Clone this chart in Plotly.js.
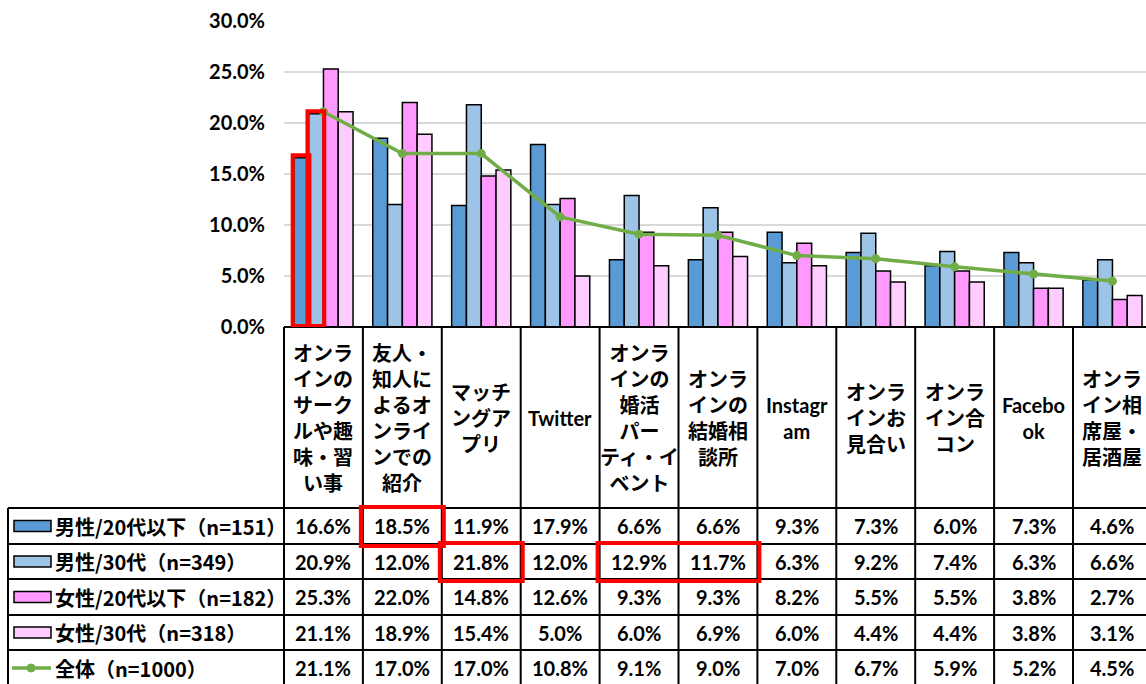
<!DOCTYPE html>
<html><head><meta charset="utf-8">
<script src="https://cdn.plot.ly/plotly-3.0.1.min.js"></script>
<style>html,body{margin:0;padding:0;background:#fff}#chart{width:1146px;height:684px}</style>
</head><body><div id="chart"></div>
<script>
const categories = [
  'オンラインのサークルや趣味・習い事',
  '友人・知人によるオンラインでの紹介',
  'マッチングアプリ',
  'Twitter',
  'オンラインの婚活パーティ・イベント',
  'オンラインの結婚相談所',
  'Instagram',
  'オンラインお見合い',
  'オンライン合コン',
  'Facebook',
  'オンライン相席屋・居酒屋'
];
const categoryLabels = [
  'オンラ<br>インの<br>サーク<br>ルや趣<br>味・習<br>い事',
  '友人・<br>知人に<br>よるオ<br>ンライ<br>ンでの<br>紹介',
  'マッチ<br>ングア<br>プリ',
  'Twitter',
  'オンラ<br>インの<br>婚活<br>パー<br>ティ・イ<br>ベント',
  'オンラ<br>インの<br>結婚相<br>談所',
  'Instagr<br>am',
  'オンラ<br>インお<br>見合い',
  'オンラ<br>イン合<br>コン',
  'Facebo<br>ok',
  'オンラ<br>イン相<br>席屋・<br>居酒屋'
];
const seriesNames = ['男性/20代以下（n=151）','男性/30代（n=349）','女性/20代以下（n=182）','女性/30代（n=318）','全体（n=1000）'];
const male20   = [16.6,18.5,11.9,17.9,6.6,6.6,9.3,7.3,6.0,7.3,4.6];
const male30   = [20.9,12.0,21.8,12.0,12.9,11.7,6.3,9.2,7.4,6.3,6.6];
const female20 = [25.3,22.0,14.8,12.6,9.3,9.3,8.2,5.5,5.5,3.8,2.7];
const female30 = [21.1,18.9,15.4,5.0,6.0,6.9,6.0,4.4,4.4,3.8,3.1];
const total    = [21.1,17.0,17.0,10.8,9.1,9.0,7.0,6.7,5.9,5.2,4.5];
const yTicks = [0,5,10,15,20,25,30];

// highlighted cells: [category index, row index, span]
const highlightCells = [[1,0,1],[2,1,1],[4,1,2]];

const barSeries = [male20, male30, female20, female30];
const barColors = ['#5B9BD5','#9DC3E6','#FF99FF','#FFCCFF'];
const lineColor = '#70AD47';

// geometry (pixels)
const W = 1146, H = 684, L = 284, T = 21, B = 327, slot = 78.9;
const xr = [-0.5, -0.5 + (W - L) / slot];
const rowTops = [508, 544, 579, 615, 650, 686];
const tableLeft = 8;
const px2X = px => (px - L) / (W - L);
const py2Y = py => (B - py) / (B - T);
const bnd = v => L + (v - xr[0]) * slot; // data x -> px

const FONT = 'Lato, "Noto Sans CJK JP", sans-serif';
const JFONT = '"Noto Sans CJK JP", Lato, sans-serif';

const traces = barSeries.map((v, k) => ({
  type: 'bar', x: categories, y: v, name: seriesNames[k],
  marker: {color: barColors[k], line: {color: '#000', width: 1.5}}
}));
traces.push({
  type: 'scatter', mode: 'lines+markers', x: categories, y: total, name: seriesNames[4],
  line: {color: lineColor, width: 3.5}, marker: {color: lineColor, size: 9}
});

const shapes = [];
const annotations = [];
const blk = {color: '#000', width: 2};

shapes.push({type: 'line', xref: 'paper', yref: 'paper', x0: 0, x1: 1, y0: 0, y1: 0, line: blk});
rowTops.slice(0, 5).forEach(py => shapes.push({type: 'line', xref: 'paper', yref: 'paper',
  x0: px2X(tableLeft), x1: 1, y0: py2Y(py), y1: py2Y(py), line: blk}));
shapes.push({type: 'line', xref: 'paper', yref: 'paper', x0: px2X(tableLeft), x1: px2X(tableLeft),
  y0: py2Y(rowTops[0]), y1: py2Y(H + 5), line: blk});
for (let i = 0; i < categories.length; i++) {
  const px = bnd(i - 0.5);
  shapes.push({type: 'line', xref: 'paper', yref: 'paper', x0: px2X(px), x1: px2X(px),
    y0: 0, y1: py2Y(H + 5), line: blk});
}

categories.forEach((c, i) => annotations.push({
  xref: 'x', yref: 'paper', x: i, y: py2Y((B + rowTops[0]) / 2), yanchor: 'middle', xanchor: 'center',
  text: categoryLabels[i], showarrow: false, align: 'center',
  font: {family: FONT, size: 20, weight: 'bold', color: '#000'}
}));

const allSeries = [male20, male30, female20, female30, total];
allSeries.forEach((s, r) => {
  const cy = (rowTops[r] + rowTops[r + 1]) / 2;
  s.forEach((v, i) => annotations.push({
    xref: 'x', yref: 'paper', x: i, y: py2Y(cy), yanchor: 'middle', xanchor: 'center',
    text: v.toFixed(1) + '%', showarrow: false,
    font: {family: FONT, size: 20, weight: 'bold', color: '#000'}
  }));
  annotations.push({
    xref: 'paper', yref: 'paper', x: px2X(53), y: py2Y(cy), xanchor: 'left', yanchor: 'middle',
    text: seriesNames[r], showarrow: false,
    font: {family: JFONT, size: 20, weight: 'bold', color: '#000'}
  });
  if (r < 4) {
    shapes.push({type: 'rect', xref: 'paper', yref: 'paper', x0: px2X(14), x1: px2X(51),
      y0: py2Y(cy + 5.5), y1: py2Y(cy - 5.5), fillcolor: barColors[r], line: {color: '#000', width: 1.5}});
  } else {
    shapes.push({type: 'line', xref: 'paper', yref: 'paper', x0: px2X(12), x1: px2X(51),
      y0: py2Y(cy), y1: py2Y(cy), line: {color: lineColor, width: 3.5}});
    shapes.push({type: 'circle', xref: 'paper', yref: 'paper', x0: px2X(27), x1: px2X(35),
      y0: py2Y(cy + 4), y1: py2Y(cy - 4), fillcolor: lineColor, line: {color: lineColor, width: 1}});
  }
});

const red = {color: '#FF0000', width: 4};
const barW = 0.75 / 4;
[[0, male20[0]], [1, male30[0]]].forEach(([k, v]) => {
  const x0 = -0.375 + barW * k;
  shapes.push({type: 'rect', xref: 'x', yref: 'y', x0: x0 - 0.015, x1: x0 + barW + 0.01,
    y0: 0.1, y1: v + 0.25, line: red, layer: 'above'});
});
highlightCells.forEach(([c, r, span]) => {
  shapes.push({type: 'rect', xref: 'paper', yref: 'paper',
    x0: px2X(bnd(c - 0.5) - 2), x1: px2X(bnd(c - 0.5 + span) + 2),
    y0: py2Y(rowTops[r + 1] + 2), y1: py2Y(rowTops[r] - 1), line: red});
});

const layout = {
  width: W, height: H,
  margin: {l: L, r: 0, t: T, b: H - B, pad: 0},
  paper_bgcolor: '#fff', plot_bgcolor: '#fff',
  barmode: 'group', bargap: 0.25, bargroupgap: 0,
  showlegend: false,
  xaxis: {type: 'category', range: xr, showticklabels: false, showgrid: false, zeroline: false, showline: false, fixedrange: true},
  yaxis: {range: [0, 30], tickvals: yTicks, ticktext: yTicks.map(v => v.toFixed(1) + '%'),
    gridcolor: '#D9D9D9', gridwidth: 1.5, zeroline: false, showline: false, ticks: '',
    ticklabelstandoff: 18, tickfont: {family: FONT, size: 20, weight: 'bold', color: '#000'}, fixedrange: true},
  shapes: shapes,
  annotations: annotations,
  hovermode: false
};

Plotly.newPlot('chart', traces, layout, {displayModeBar: false, staticPlot: true});
</script>
</body></html>
